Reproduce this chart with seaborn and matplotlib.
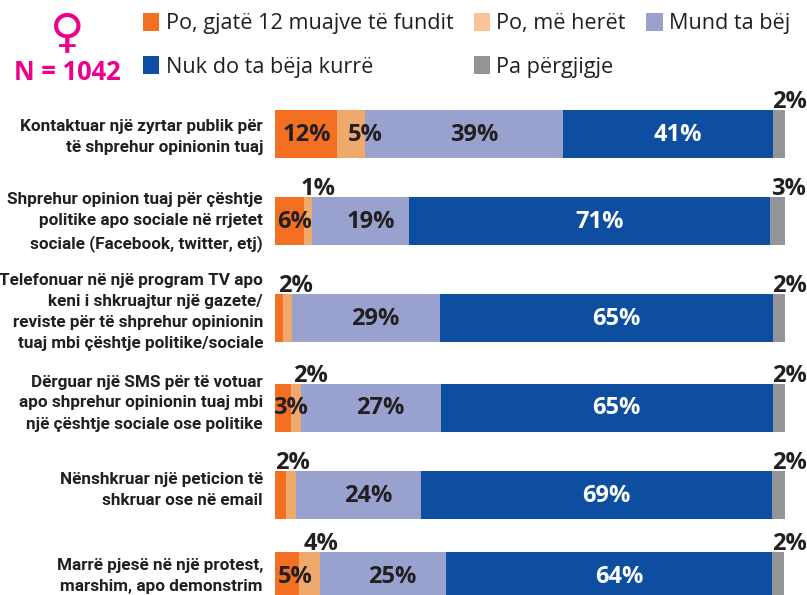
# -*- coding: utf-8 -*-
"""
Pjesemarrja e grave - stacked bars
"""

import matplotlib
matplotlib.use('Agg')
import matplotlib.pyplot as plt
from matplotlib.patches import Patch
import numpy as np
import seaborn as sns

categories = [
    'Kontaktuar një zyrtar publik për\ntë shprehur opinionin tuaj',
    'Shprehur opinion tuaj për çështje\npolitike apo sociale në rrjetet\nsociale (Facebook, twitter, etj)',
    'Telefonuar në një program TV apo\nkeni i shkruajtur një gazete/\nreviste për të shprehur opinionin\ntuaj mbi çështje politike/sociale',
    'Dërguar një SMS për të votuar\napo shprehur opinionin tuaj mbi\nnjë çështje sociale ose politike',
    'Nënshkruar një peticion të\nshkruar ose në email',
    'Marrë pjesë në një protest,\nmarshim, apo demonstrim',
]

series_names = ['Po, gjatë 12 muajve të fundit', 'Po, më herët', 'Mund ta bëj',
                'Nuk do ta bëja kurrë', 'Pa përgjigje']

# shares
recent = [12.2, 5.7, 1.6, 3.1, 2.2, 4.7]
earlier = [5.5, 1.6, 1.8, 1.9, 2.0, 4.1]
could = [38.8, 19.0, 29.0, 27.5, 24.5, 24.7]
never = [41.1, 70.8, 65.2, 65.1, 68.8, 63.9]
no_answer = [2.4, 2.9, 2.4, 2.4, 2.5, 2.5]

# printed labels per row
inside_labels = [['12%', '5%', '39%', '41%'], ['6%', '19%', '71%'], ['29%', '65%'],
                 ['3%', '27%', '65%'], ['24%', '69%'], ['5%', '25%', '64%']]
inside_x = [[306.5, 365, 474, 678], [294.5, 371, 600], [375.5, 616],
            [291, 380.5, 616], [368, 606], [295, 392, 619]]
top_labels = [['2%'], ['1%', '3%'], ['2%', '2%'], ['2%', '2%'], ['2%', '2%'], ['4%', '2%']]
top_x = [[789], [318, 789], [295, 789], [310, 789], [292, 789], [321, 789]]

# bar centres and label block centres, in pixels from the top
row_y = [134, 221, 318, 407.5, 495, 576]
label_y = [137, 222, 312, 403, 490, 576]

bar_colors = ['#F36F21', '#EFA96C', '#99A1CF', '#0D4EA1', '#939598']
legend_colors = ['#F36F21', '#FBC295', '#99A1CF', '#0D4EA1', '#939598']
text_color = '#231F20'
pink = '#EC008C'

W, H = 807, 595

sns.set_theme(style='white')
plt.rcParams['font.family'] = ['Open Sans', 'DejaVu Sans']

fig = plt.figure(figsize=(W / 100, H / 100), dpi=100)
ax = fig.add_axes([275 / W, 0, 510 / W, 1])

# stacked bars: draw the running totals from longest to shortest
values = np.array([recent, earlier, could, never, no_answer])
totals = values.cumsum(axis=0)
for i in range(4, -1, -1):
    sns.barplot(x=totals[i], y=row_y, orient='y', native_scale=True, color=bar_colors[i],
                saturation=1, width=48 / (576 - 495), linewidth=0, ax=ax)

ax.set_xlim(0, 100)
ax.set_ylim(H, 0)
ax.axis('off')


def px(x, y):
    return x / W, 1 - y / H


for row, y in enumerate(row_y):
    fig.text(*px(263, label_y[row]), categories[row], ha='right', va='center', fontsize=12.3,
             fontweight='bold', family='Roboto', color=text_color, linespacing=1.5)
    for txt, x in zip(inside_labels[row], inside_x[row]):
        color = 'white' if x > 500 else text_color
        fig.text(*px(x, y + 1), txt, ha='center', va='center', fontsize=17,
                 fontweight='bold', color=color)
    for txt, x in zip(top_labels[row], top_x[row]):
        fig.text(*px(x, y - 24 - 2), txt, ha='center', va='baseline', fontsize=17,
                 fontweight='bold', color=text_color)

handles = [Patch(facecolor=c, edgecolor='none') for c in legend_colors]
# legend fills columns top-down, so order the entries by column
order = [0, 3, 1, 4, 2]
leg = fig.legend([handles[i] for i in order], [series_names[i] for i in order], ncols=3,
                 loc='upper left', bbox_to_anchor=px(143, 13), frameon=False, fontsize=15.6,
                 labelcolor=text_color, handlelength=0.74, handleheight=0.9, handletextpad=0.3,
                 columnspacing=0.95, labelspacing=1.0, borderpad=0, borderaxespad=0)

fig.text(*px(67, 35), '\u2640', ha='center', va='center', fontsize=34, color=pink,
         family='DejaVu Sans')
fig.text(*px(67, 73), 'N = 1042', ha='center', va='center', fontsize=18.4, fontweight='bold',
         color=pink)

fig.savefig('out.png', dpi=100)
plt.close(fig)
